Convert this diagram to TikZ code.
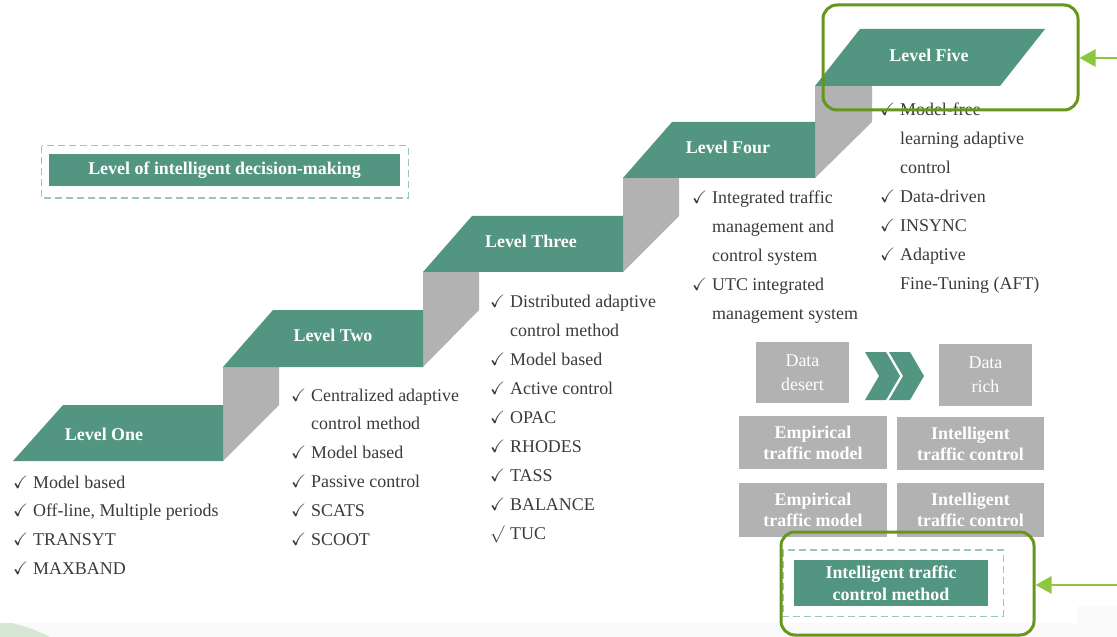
\documentclass[tikz,border=0pt]{standalone}
\usepackage{amssymb}
\usepackage{fontspec}
\setmainfont{Liberation Serif}
\usetikzlibrary{arrows.meta}

\definecolor{stepgreen}{RGB}{82,149,129}
\definecolor{risergray}{RGB}{178,178,178}
\definecolor{framegreen}{RGB}{104,150,28}
\definecolor{pointergreen}{RGB}{141,198,63}
\definecolor{ink}{RGB}{58,58,58}
\definecolor{dashgreen}{RGB}{150,200,186}
\definecolor{swoosh}{RGB}{214,232,211}

\newcommand\ck{$\checkmark$}

\tikzset{
  stepface/.style={fill=stepgreen},
  riserface/.style={fill=risergray},
  levellabel/.style={text=white, inner sep=0pt,
    font=\fontsize{18}{21}\selectfont\bfseries},
  checklist/.style={text=ink, inner sep=0pt, anchor=base west,
    font=\fontsize{18}{29}\selectfont},
  titlebar/.style={fill=stepgreen, text=white, inner sep=0pt, align=center,
    font=\fontsize{18}{22}\selectfont\bfseries},
  dashframe/.style={draw=dashgreen, line width=1.4bp, dash pattern=on 7bp off 4bp},
  graybox/.style={fill=risergray, text=white, inner sep=0pt, align=center,
    font=\fontsize{18}{21}\selectfont\bfseries},
  datalabel/.style={fill=risergray, text=white, inner sep=0pt, align=center,
    font=\fontsize{18}{24}\selectfont},
  chevron/.style={fill=stepgreen},
  hilite/.style={draw=framegreen, line width=3bp, rounded corners=14bp,
    inner sep=0pt},
  pointer/.style={draw=pointergreen, line width=2.6bp,
    -{Triangle[length=16bp,width=17bp]}},
}

\begin{document}
\begin{tikzpicture}[x=1bp, y=-1bp]
\useasboundingbox (0,0) rectangle (1117,637);

% faint background at the lower edge
\fill[black!2] (0,623) rectangle (1117,637);
\fill[black!2] (1077,606) rectangle (1117,637);
\fill[swoosh] (0,623) -- (12,623) .. controls (25,626) and (38,631) .. (50,637) -- (0,637) -- cycle;

% ---------- staircase: risers ----------
\path[riserface] (223,367) -- (279,367) -- (279,405) -- (223,461) -- cycle;
\path[riserface] (423,272) -- (479,272) -- (479,310) -- (423,367) -- cycle;
\path[riserface] (623,178) -- (679,178) -- (679,216) -- (623,272) -- cycle;
\path[riserface] (815,86)  -- (872,86)  -- (872,122) -- (815,178) -- cycle;

% ---------- staircase: treads ----------
\path[stepface] (13,461)  -- (63,405)  -- (223,405)  -- (223,461) -- cycle;
\path[stepface] (223,367) -- (273,310) -- (423,310)  -- (423,367) -- cycle;
\path[stepface] (423,272) -- (472,216) -- (623,216)  -- (623,272) -- cycle;
\path[stepface] (623,178) -- (672,122) -- (815,122)  -- (815,178) -- cycle;
\path[stepface] (815,86)  -- (860,29)  -- (1045,29)  -- (1000,86) -- cycle;

\node[levellabel] (lv1) at (104,434) {Level One};
\node[levellabel] (lv2) at (333,335) {Level Two};
\node[levellabel] (lv3) at (531,241) {Level Three};
\node[levellabel] (lv4) at (728,147) {Level Four};
\node[levellabel] (lv5) at (929,55)  {Level Five};

% ---------- check lists ----------
\node[checklist] (list1) at (13,488) {\begin{tabular}[t]{@{}l@{\hspace{5pt}}l@{}}
\ck & Model based\\
\ck & Off-line, Multiple periods\\
\ck & TRANSYT\\
\ck & MAXBAND
\end{tabular}};

\node[checklist] (list2) at (291,401) {\begin{tabular}[t]{@{}l@{\hspace{5pt}}l@{}}
\ck & Centralized adaptive\\
    & control method\\
\ck & Model based\\
\ck & Passive control\\
\ck & SCATS\\
\ck & SCOOT
\end{tabular}};

\node[checklist] (list3) at (490,308) {\begin{tabular}[t]{@{}l@{\hspace{5pt}}l@{}}
\ck & Distributed adaptive\\
    & control method\\
\ck & Model based\\
\ck & Active control\\
\ck & OPAC\\
\ck & RHODES\\
\ck & TASS\\
\ck & BALANCE\\
$\surd$ & TUC
\end{tabular}};

\node[checklist] (list4) at (692,204) {\begin{tabular}[t]{@{}l@{\hspace{5pt}}l@{}}
\ck & Integrated traffic\\
    & management and\\
    & control system\\
\ck & UTC integrated\\
    & management system
\end{tabular}};

\node[checklist] (list5) at (880,116) {\begin{tabular}[t]{@{}l@{\hspace{5pt}}l@{}}
\ck & Model-free\\
    & learning adaptive\\
    & control\\
\ck & Data-driven\\
\ck & INSYNC\\
\ck & Adaptive\\
    & Fine-Tuning (AFT)
\end{tabular}};

% ---------- legend on the left ----------
\node[titlebar, minimum width=351bp, minimum height=32bp] (title) at (224.5,170)
  {Level of intelligent decision-making};
\draw[dashframe] ([shift={(-7,-8)}]title.north west) rectangle ([shift={(8,12)}]title.south east);

% ---------- data panel ----------
\node[datalabel, minimum width=93bp, minimum height=61bp] (desert) at (802.5,372.5) {Data\\desert};
\node[datalabel, minimum width=93bp, minimum height=62bp] (rich) at (985.5,375) {Data\\rich};
\path[chevron] (865,352) -- (886,352) -- (900,376) -- (886,400) -- (865,400) -- (879,376) -- cycle;
\path[chevron] (889,352) -- (910,352) -- (924,376) -- (910,400) -- (889,400) -- (903,376) -- cycle;

\node[graybox, minimum width=148bp, minimum height=53bp] (emp1) at (813,442.5) {Empirical\\traffic model};
\node[graybox, minimum width=147bp, minimum height=53bp] (int1) at (970.5,443.5) {Intelligent\\traffic control};
\node[graybox, minimum width=148bp, minimum height=54bp] (emp2) at (813,510) {Empirical\\traffic model};
\node[graybox, minimum width=147bp, minimum height=54bp] (int2) at (970.5,510) {Intelligent\\traffic control};

\node[titlebar, minimum width=194bp, minimum height=46bp] (method) at (891,583)
  {Intelligent traffic\\control method};
\draw[dashframe] ([shift={(-11,-10)}]method.north west) rectangle ([shift={(15,10)}]method.south east);

% ---------- highlight frames and pointers ----------
\node[hilite, minimum width=255bp, minimum height=105bp] (hlTop) at (950.5,57.5) {};
\node[hilite, minimum width=253bp, minimum height=103bp] (hlBottom) at (907.5,583.5) {};
\coordinate (srcTop) at (1117,58);
\coordinate (srcBottom) at (1117,585);
\draw[pointer] (srcTop) -- (srcTop -| hlTop.east);
\draw[pointer] (srcBottom) -- (srcBottom -| hlBottom.east);

\end{tikzpicture}
\end{document}
